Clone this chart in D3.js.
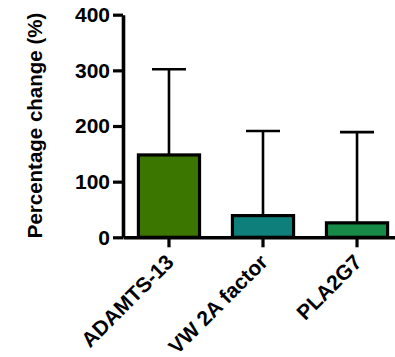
<!DOCTYPE html>
<html>
<head>
<meta charset="utf-8">
<script src="https://cdn.jsdelivr.net/npm/d3@7"></script>
<style>
  html, body { margin: 0; padding: 0; background: #fff; }
  svg { display: block; }
  text { font-family: "Liberation Sans", Arial, Helvetica, sans-serif; font-weight: bold; fill: #000; }
</style>
</head>
<body>
<script>
// Mean percentage change per marker, with the upper end of its error bar
const categories = ["ADAMTS-13", "VW 2A factor", "PLA2G7"];
const means = [148, 39, 26];
const upperErrors = [302, 191, 189];
const barColors = ["#3b7600", "#0f7f7c", "#178a47"];
const yTicks = [0, 100, 200, 300, 400];
const yLabel = "Percentage change (%)";

const width = 395, height = 357;
const svg = d3.select("body").append("svg")
  .attr("width", width).attr("height", height);

const x0 = 123;
const x = d3.scaleBand()
  .domain(categories)
  .range([x0, 403])
  .paddingInner(0.35)
  .paddingOuter(0.164);

const y = d3.scaleLinear().domain([0, 400]).range([237.3, 14.7]);

const rows = categories.map((c, i) => ({ c, mean: means[i], hi: upperErrors[i], color: barColors[i] }));

// Error bars (upper only), drawn beneath the bars
const err = svg.append("g");
rows.forEach(d => {
  const cx = x(d.c) + x.bandwidth() / 2;
  err.append("line")
    .attr("x1", cx).attr("x2", cx)
    .attr("y1", y(d.mean)).attr("y2", y(d.hi))
    .attr("stroke", "#000").attr("stroke-width", 2.6);
  err.append("line")
    .attr("x1", cx - 17).attr("x2", cx + 17)
    .attr("y1", y(d.hi)).attr("y2", y(d.hi))
    .attr("stroke", "#000").attr("stroke-width", 2.6);
});

// Bars
svg.append("g").selectAll("rect").data(rows).join("rect")
  .attr("x", d => x(d.c))
  .attr("width", x.bandwidth())
  .attr("y", d => y(d.mean))
  .attr("height", d => y(0) - y(d.mean))
  .attr("fill", d => d.color)
  .attr("stroke", "#000")
  .attr("stroke-width", 3.2);

// Y axis
const yAxis = svg.append("g")
  .attr("transform", `translate(${x0},0)`)
  .call(d3.axisLeft(y).tickValues(yTicks).tickSize(10).tickSizeOuter(0).tickPadding(3));
yAxis.select(".domain").attr("stroke", "#000").attr("stroke-width", 3.6);
yAxis.selectAll(".tick line").attr("stroke", "#000").attr("stroke-width", 3.2);
yAxis.selectAll(".tick text").attr("font-size", 21).attr("font-family", null);

// X axis
const xAxis = svg.append("g")
  .attr("transform", `translate(0,${y(0)})`)
  .call(d3.axisBottom(x).tickSize(10).tickSizeOuter(0).tickPadding(4));
xAxis.select(".domain").attr("stroke", "#000").attr("stroke-width", 3.6);
xAxis.selectAll(".tick line").attr("stroke", "#000").attr("stroke-width", 3.2);
xAxis.selectAll(".tick text")
  .attr("font-size", 21)
  .attr("font-family", null)
  .attr("text-anchor", "end")
  .attr("dy", "0.35em")
  .attr("transform", "translate(-9,11) rotate(-45)");

// Y axis title
svg.append("text")
  .attr("transform", "translate(42,125.5) rotate(-90)")
  .attr("text-anchor", "middle")
  .attr("font-size", 20.5)
  .text(yLabel);
</script>
</body>
</html>
